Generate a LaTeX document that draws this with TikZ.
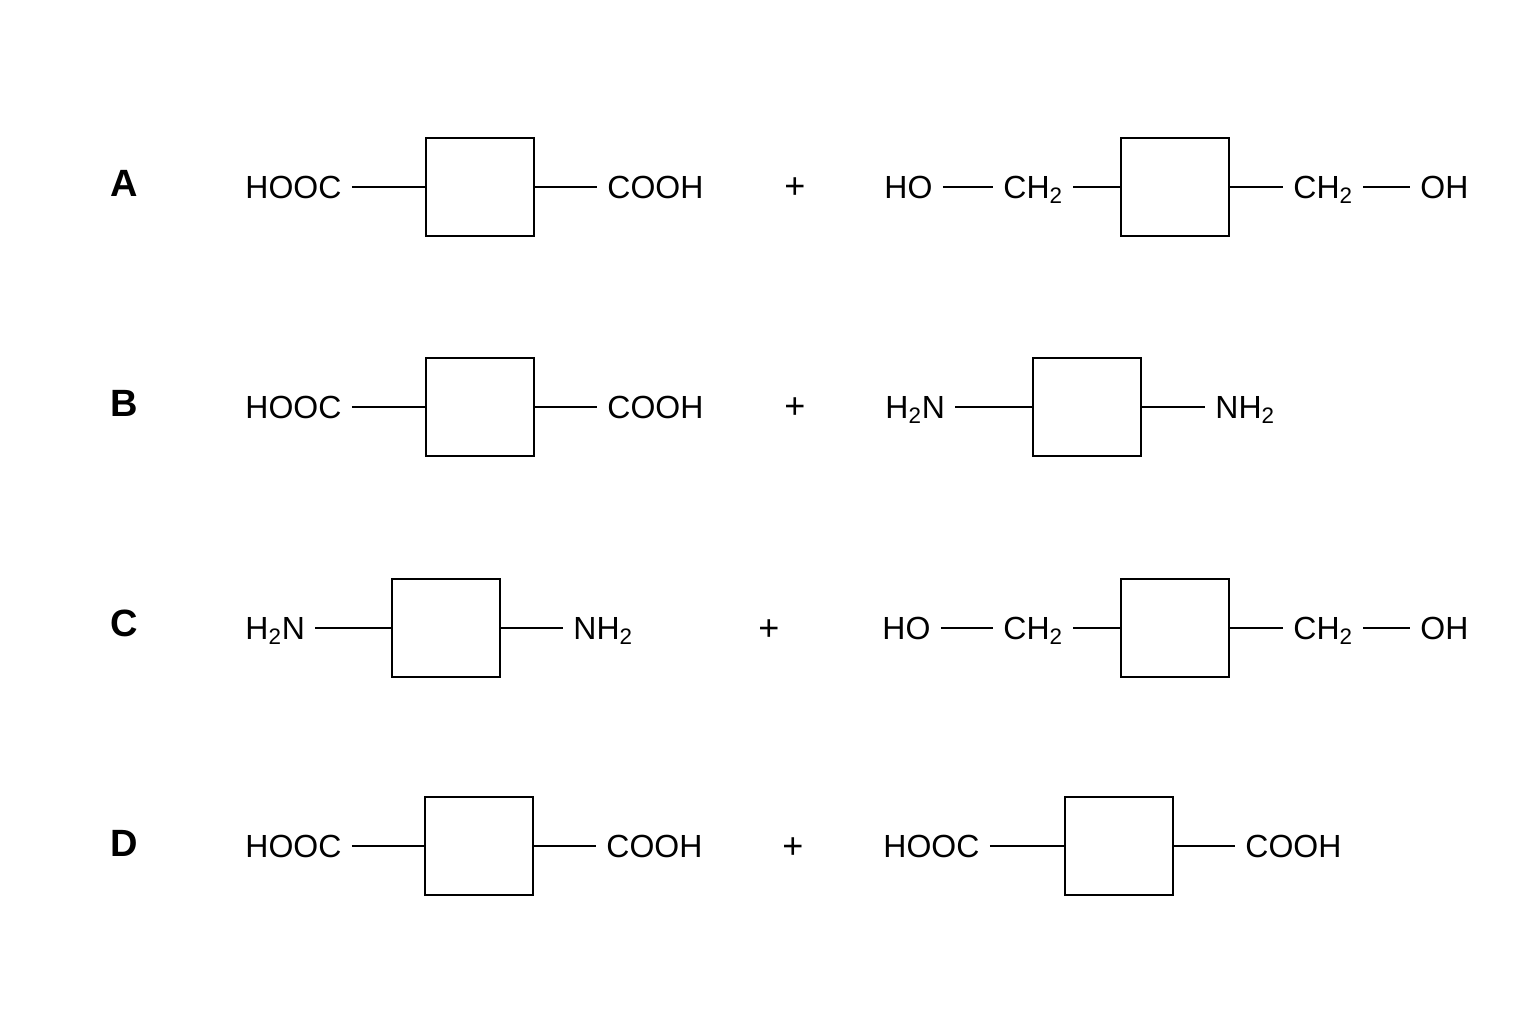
\documentclass[tikz,border=0pt]{standalone}
\usepackage{fontspec}
\setmainfont{Liberation Sans}
\tikzset{
  grp/.style={inner sep=5pt, text height=13pt, text depth=1.5pt, font=\fontsize{16}{18}\selectfont},
  ring/.style={draw, line width=1pt, minimum width=54pt, minimum height=49pt, inner sep=0pt},
  bond/.style={line width=1pt},
  tag/.style={font=\bfseries\fontsize{19}{22}\selectfont},
  plus/.style={font=\fontsize{18}{20}\selectfont}
}
\begin{document}
\begin{tikzpicture}[x=0.5pt,y=0.5pt,yscale=-1]
\useasboundingbox (0,0) rectangle (1536,1024);

% Row A
\node[tag] (tA) at (124,183) {A};
\node[grp, anchor=west] (a1) at (235,187) {HOOC};
\node[ring] (a2) at (480,187) {};
\node[grp, anchor=west] (a3) at (597,187) {COOH};
\node[plus] (a4) at (795,188) {+};
\node[grp, anchor=west] (a5) at (874,187) {HO};
\node[grp, anchor=west] (a6) at (993,187) {CH\textsubscript{2}};
\node[ring] (a7) at (1175,187) {};
\node[grp, anchor=west] (a8) at (1283,187) {CH\textsubscript{2}};
\node[grp, anchor=west] (a9) at (1410,187) {OH};
\draw[bond] (a1) -- (a2) (a2) -- (a3) (a5) -- (a6) (a6) -- (a7) (a7) -- (a8) (a8) -- (a9);

% Row B
\node[tag] (tB) at (124,403) {B};
\node[grp, anchor=west] (b1) at (235,407) {HOOC};
\node[ring] (b2) at (480,407) {};
\node[grp, anchor=west] (b3) at (597,407) {COOH};
\node[plus] (b4) at (795,408) {+};
\node[grp, anchor=west] (b5) at (875,407) {H\textsubscript{2}N};
\node[ring] (b6) at (1087,407) {};
\node[grp, anchor=west] (b7) at (1205,407) {NH\textsubscript{2}};
\draw[bond] (b1) -- (b2) (b2) -- (b3) (b5) -- (b6) (b6) -- (b7);

% Row C
\node[tag] (tC) at (124,623) {C};
\node[grp, anchor=west] (c1) at (235,628) {H\textsubscript{2}N};
\node[ring] (c2) at (446,628) {};
\node[grp, anchor=west] (c3) at (563,628) {NH\textsubscript{2}};
\node[plus] (c4) at (769,630) {+};
\node[grp, anchor=west] (c5) at (872,628) {HO};
\node[grp, anchor=west] (c6) at (993,628) {CH\textsubscript{2}};
\node[ring] (c7) at (1175,628) {};
\node[grp, anchor=west] (c8) at (1283,628) {CH\textsubscript{2}};
\node[grp, anchor=west] (c9) at (1410,628) {OH};
\draw[bond] (c1) -- (c2) (c2) -- (c3) (c5) -- (c6) (c6) -- (c7) (c7) -- (c8) (c8) -- (c9);

% Row D
\node[tag] (tD) at (124,843) {D};
\node[grp, anchor=west] (d1) at (235,846) {HOOC};
\node[ring] (d2) at (479,846) {};
\node[grp, anchor=west] (d3) at (596,846) {COOH};
\node[plus] (d4) at (793,848) {+};
\node[grp, anchor=west] (d5) at (873,846) {HOOC};
\node[ring] (d6) at (1119,846) {};
\node[grp, anchor=west] (d7) at (1235,846) {COOH};
\draw[bond] (d1) -- (d2) (d2) -- (d3) (d5) -- (d6) (d6) -- (d7);
\end{tikzpicture}
\end{document}
